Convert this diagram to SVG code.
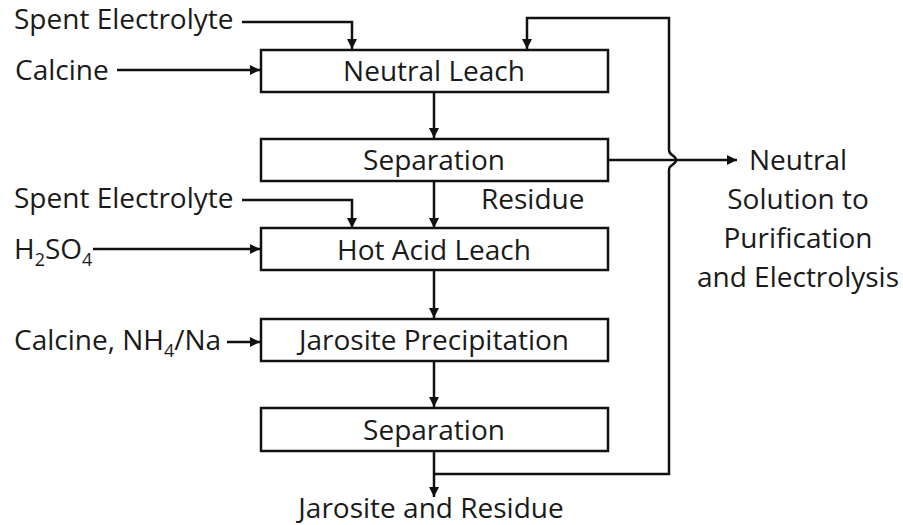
<svg xmlns="http://www.w3.org/2000/svg" width="903" height="525" viewBox="0 0 903 525">
<style>
text{font-family:"Open Sans","Noto Sans","Liberation Sans",sans-serif;font-size:28px;fill:#1a1a1a}
.c{text-anchor:middle}
.sub{font-size:18px}
.box{fill:#fff;stroke:#111;stroke-width:2.5}
.ln{fill:none;stroke:#111;stroke-width:2.5}
</style>
<defs>
<marker id="ah" viewBox="0 0 10 10" refX="10" refY="5" markerWidth="10" markerHeight="10" markerUnits="userSpaceOnUse" orient="auto">
<path d="M0,0 L10,5 L0,10 z" fill="#111"/>
</marker>
</defs>
<rect width="903" height="525" fill="#fff"/>
<g id="connectors">
<path class="ln" d="M242,22 H352 V49" marker-end="url(#ah)"/>
<path class="ln" d="M117,70 H260" marker-end="url(#ah)"/>
<path class="ln" d="M434,92 V138" marker-end="url(#ah)"/>
<path class="ln" d="M608,160 H737" marker-end="url(#ah)"/>
<path class="ln" d="M434,181 V228" marker-end="url(#ah)"/>
<path class="ln" d="M242,200 H352 V228" marker-end="url(#ah)"/>
<path class="ln" d="M93,249 H260" marker-end="url(#ah)"/>
<path class="ln" d="M434,270 V318" marker-end="url(#ah)"/>
<path class="ln" d="M227,342 H260" marker-end="url(#ah)"/>
<path class="ln" d="M434,361 V407" marker-end="url(#ah)"/>
<path class="ln" d="M434,451 V497" marker-end="url(#ah)"/>
<path class="ln" d="M434,474 H669 V170 C669,164 676,165 676,160 C676,155 669,156 669,150 V18 H527 V49" marker-end="url(#ah)"/>
</g>
<g id="neutral-leach"><rect class="box" x="261" y="50" width="347" height="42"/><text class="c" x="434" y="81">Neutral Leach</text></g>
<g id="separation-1"><rect class="box" x="261" y="139" width="347" height="42"/><text class="c" x="434" y="170">Separation</text></g>
<g id="hot-acid-leach"><rect class="box" x="261" y="228" width="347" height="42"/><text class="c" x="434" y="260">Hot Acid Leach</text></g>
<g id="jarosite-precipitation"><rect class="box" x="261" y="319" width="347" height="42"/><text class="c" x="434" y="350">Jarosite Precipitation</text></g>
<g id="separation-2"><rect class="box" x="261" y="408" width="347" height="43"/><text class="c" x="434" y="440">Separation</text></g>
<g id="labels">
<text x="14" y="29">Spent Electrolyte</text>
<text x="15" y="80">Calcine</text>
<text x="14" y="208">Spent Electrolyte</text>
<text x="14" y="259">H<tspan class="sub" dy="7">2</tspan><tspan dy="-7">SO</tspan><tspan class="sub" dy="7">4</tspan></text>
<text x="14" y="350">Calcine, NH<tspan class="sub" dy="7">4</tspan><tspan dy="-7">/Na</tspan></text>
<text x="481" y="209">Residue</text>
<text class="c" x="798" y="170">Neutral</text>
<text class="c" x="798" y="209">Solution to</text>
<text class="c" x="798" y="248">Purification</text>
<text class="c" x="798" y="287">and Electrolysis</text>
<text class="c" x="431" y="518">Jarosite and Residue</text>
</g>
</svg>
